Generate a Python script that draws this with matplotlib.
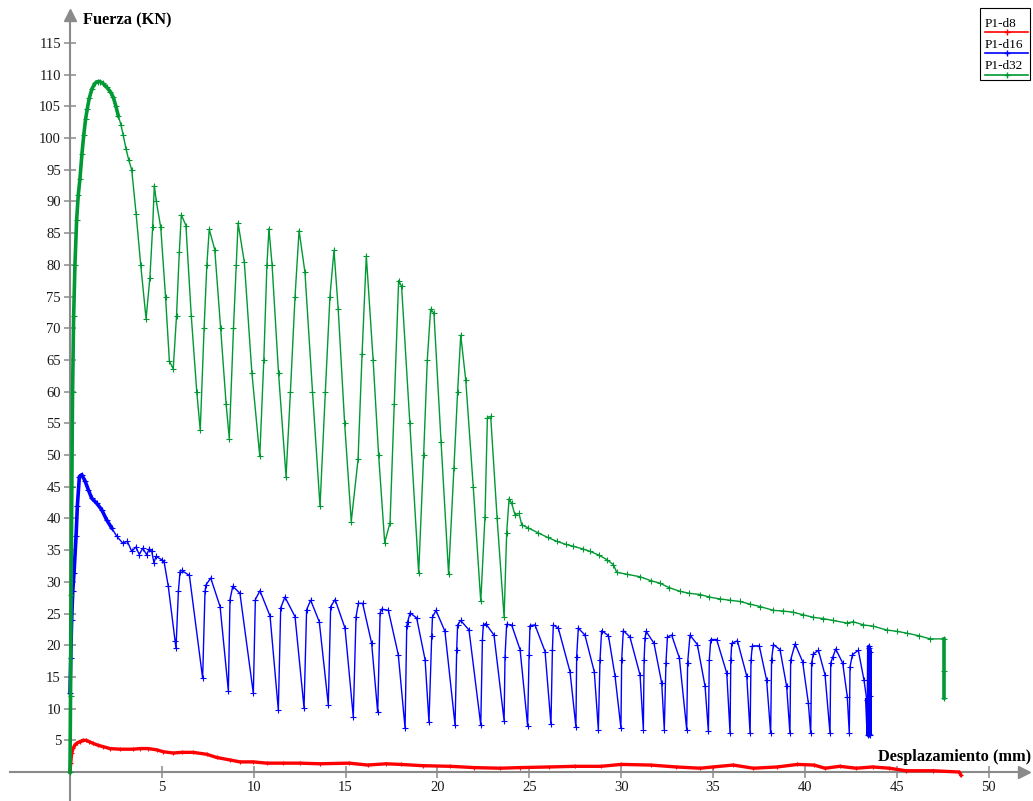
import numpy as np
import matplotlib.pyplot as plt
from matplotlib.lines import Line2D
from matplotlib.patches import Rectangle

plt.rcParams['font.family'] = ['Liberation Serif', 'DejaVu Serif']

# ensayo P1-d8 (desplazamiento mm, fuerza kN)
d8_x = [0, 0.04, 0.09, 0.18, 0.27, 0.4, 0.54, 0.7, 0.87, 1.05, 1.27, 1.55, 1.81, 2.18, 2.72,
        3.45, 3.81, 4.26, 4.72, 5.08, 5.62, 6.08, 6.71, 7.44, 7.98, 8.71, 9.25, 9.98, 10.71,
        11.61, 12.52, 13.6, 15.2, 16.2, 17.2, 18.0, 19.2, 20.7, 22.0, 23.4, 24.5, 26.1, 27.5,
        28.9, 30.0, 31.6, 33.0, 34.3, 35.0, 36.1, 37.2, 38.5, 39.6, 40.5, 41.1, 41.9, 42.8,
        43.7, 44.6, 45.5, 47.0, 48.4, 48.5]
d8_y = [0, 1.4, 3.0, 3.8, 4.3, 4.6, 4.8, 5.0, 5.0, 4.8, 4.5, 4.2, 4.0, 3.7, 3.6,
        3.6, 3.7, 3.7, 3.5, 3.2, 3.0, 3.1, 3.1, 2.8, 2.3, 1.9, 1.6, 1.6, 1.4,
        1.4, 1.4, 1.3, 1.4, 1.1, 1.3, 1.2, 1.0, 0.9, 0.7, 0.6, 0.7, 0.8, 0.9,
        0.9, 1.2, 1.1, 0.8, 0.6, 0.8, 1.1, 0.6, 0.8, 1.2, 1.1, 0.6, 0.9, 0.6,
        0.8, 0.6, 0.2, 0.2, 0.0, -0.5]

# ensayo P1-d16
d16_x = [0, 0.04, 0.09, 0.15, 0.22, 0.33, 0.4, 0.51, 0.64, 0.82, 1.0, 1.18, 1.45, 1.72, 1.99,
         2.27, 2.54, 2.87, 3.12, 3.36, 3.59, 3.77, 3.96, 4.17, 4.32, 4.45, 4.57, 4.68, 4.99,
         5.12, 5.35, 5.72, 5.77, 5.9, 5.99, 6.08, 6.5, 7.22, 7.35, 7.4, 7.66, 8.17, 8.62,
         8.71, 8.86, 9.25, 9.98, 10.09, 10.34, 10.89, 11.34, 11.47, 11.7, 12.25, 12.74,
         12.88, 13.1, 13.57, 14.06, 14.19, 14.43, 14.97, 15.42, 15.57, 15.7, 15.93, 16.42,
         16.75, 16.88, 16.97, 17.33, 17.87, 18.24, 18.33, 18.38, 18.51, 18.87, 19.33, 19.54,
         19.69, 19.73, 19.92, 20.41, 20.96, 21.05, 21.1, 21.27, 21.72, 22.36, 22.45, 22.5,
         22.63, 23.08, 23.63, 23.68, 23.77, 24.04, 24.5, 24.91, 24.99, 25.04, 25.31, 25.86,
         26.18, 26.26, 26.31, 26.58, 27.22, 27.54, 27.58, 27.67, 28.03, 28.54, 28.76, 28.85,
         28.94, 29.31, 29.67, 29.99, 30.03, 30.12, 30.48, 31.03, 31.21, 31.25, 31.3, 31.36,
         31.79, 32.21, 32.35, 32.44, 32.52, 32.75, 33.17, 33.57, 33.62, 33.75, 34.15, 34.57,
         34.75, 34.8, 34.88, 35.2, 35.75, 35.93, 35.97, 36.02, 36.33, 36.84, 37.02, 37.07,
         37.14, 37.52, 37.92, 38.14, 38.19, 38.29, 38.65, 39.01, 39.19, 39.23, 39.47, 39.88,
         40.19, 40.32, 40.37, 40.46, 40.74, 41.1, 41.37, 41.41, 41.52, 41.68, 42.06, 42.31,
         42.42, 42.46, 42.59, 42.91, 43.22, 43.37, 43.45, 43.48, 43.5, 43.52, 43.54, 43.56,
         43.55]
d16_y = [12.5, 18, 24, 28.5, 31.4, 37.2, 41.9, 46.6, 46.9, 45.9, 44.5, 43.2, 42.4, 41.4, 39.8,
         38.5, 37.2, 36.1, 36.4, 34.8, 35.5, 34.3, 35.3, 34.3, 35.2, 34.8, 33.0, 34.0, 33.5,
         33.2, 29.3, 20.6, 19.5, 28.5, 31.6, 31.8, 31.0, 14.8, 28.5, 29.5, 30.6, 26.1, 12.8,
         27.2, 29.3, 28.2, 12.4, 27.2, 28.6, 24.6, 9.8, 25.9, 27.6, 24.5, 10.1,
         25.6, 27.1, 23.7, 10.6, 26.1, 27.2, 22.7, 8.7, 24.5, 26.6, 26.6, 20.3,
         9.4, 25.1, 25.7, 25.5, 18.5, 6.9, 23.0, 23.7, 25.1, 24.3, 17.7, 7.9,
         21.4, 24.4, 25.5, 22.2, 7.4, 19.3, 23.2, 23.9, 22.4, 7.4, 20.9, 23.2,
         23.4, 21.6, 8.1, 18.2, 23.3, 23.2, 19.3, 7.3, 18.5, 23.1, 23.2, 19.0,
         7.5, 19.3, 23.2, 22.7, 15.8, 7.1, 18.2, 22.7, 21.6, 15.8, 6.7, 17.7,
         22.3, 21.5, 15.1, 6.9, 17.7, 22.3, 21.3, 15.3, 6.7, 17.7, 21.1, 22.2,
         20.3, 14.0, 6.7, 17.2, 21.3, 21.6, 18.0, 6.7, 17.2, 21.6, 20.1, 13.5,
         6.4, 17.7, 20.9, 20.9, 15.6, 6.1, 17.7, 20.3, 20.7, 15.1, 6.1, 17.7,
         19.9, 19.9, 14.5, 6.1, 17.7, 20.1, 19.3, 13.5, 6.1, 17.7, 20.2, 17.4,
         10.9, 6.1, 17.2, 18.6, 19.2, 15.3, 6.1, 17.2, 18.1, 19.4, 17.2, 11.9,
         6.1, 16.6, 18.5, 19.2, 14.5, 11.4, 5.8, 19.8, 6.0, 19.5, 5.9, 19.0,
         12.0]

# ensayo P1-d32
d32_x = [0, 0.03, 0.06, 0.1, 0.14, 0.2, 0.27, 0.36, 0.45, 0.54, 0.65, 0.75, 0.85, 0.94, 1.05,
         1.2, 1.35, 1.5, 1.63, 1.8, 2.0, 2.2, 2.36, 2.5, 2.63, 2.78, 2.9, 3.05, 3.2, 3.36,
         3.6, 3.85, 4.14, 4.35, 4.5, 4.59, 4.7, 4.94, 5.2, 5.41, 5.62, 5.8, 5.95, 6.06, 6.31,
         6.6, 6.9, 7.09, 7.3, 7.45, 7.58, 7.88, 8.2, 8.5, 8.67, 8.9, 9.05, 9.15, 9.49, 9.9,
         10.33, 10.55, 10.72, 10.83, 11.0, 11.35, 11.76, 12.0, 12.25, 12.47, 12.79, 13.2,
         13.61, 13.9, 14.15, 14.37, 14.6, 14.95, 15.31, 15.68, 15.9, 16.13, 16.5, 16.8, 17.13,
         17.42, 17.65, 17.89, 18.05, 18.5, 18.98, 19.25, 19.45, 19.63, 19.81, 20.2, 20.61,
         20.9, 21.1, 21.27, 21.54, 21.95, 22.36, 22.59, 22.72, 22.9, 23.25, 23.63, 23.77,
         23.9, 24.04, 24.22, 24.44, 24.59, 24.95, 25.5, 26.0, 26.49, 27.0, 27.4, 27.9, 28.31,
         28.8, 29.22, 29.58, 29.76, 30.3, 31.03, 31.6, 32.1, 32.6, 33.2, 33.7, 34.3, 34.8,
         35.38, 35.9, 36.47, 37.0, 37.56, 38.29, 38.8, 39.37, 39.9, 40.46, 41.0, 41.55,
         42.28, 42.64, 43.19, 43.73, 44.46, 45.0, 45.55, 46.2, 46.82, 47.58, 47.58, 47.58]
d32_y = [0, 12, 28, 45, 60, 72, 80, 87, 91, 93.5, 97.5, 100.5, 103, 104.6, 106.3,
         107.8, 108.6, 108.9, 108.9, 108.6, 108.0, 107.3, 106.4, 105.0, 103.5, 102.0, 100.4, 98.3, 96.5, 95.0,
         88, 80, 71.5, 78, 86, 92.5, 90, 85.9, 75, 64.8, 63.6, 72, 82, 87.9, 86.2,
         72, 60, 53.9, 70, 80, 85.6, 82.4, 70, 58, 52.6, 70, 80, 86.6, 80.4, 63,
         49.8, 65, 80, 85.7, 80, 63, 46.6, 60, 75, 85.4, 78.8, 60,
         41.9, 60, 75, 82.3, 73, 55, 39.5, 49.3, 66, 81.4, 65, 50, 36.2,
         39.3, 58, 77.5, 76.6, 55, 31.4, 50, 65, 73.0, 72.4, 52, 31.2,
         48, 60, 68.9, 61.9, 45, 26.9, 40.3, 55.9, 56.1, 40, 24.4, 37.7,
         43.1, 42.4, 40.6, 40.8, 39.0, 38.5, 37.7, 37.0, 36.4, 35.9, 35.6, 35.2, 34.8,
         34.2, 33.5, 32.7, 31.5, 31.2, 30.8, 30.2, 29.8, 29.1, 28.5, 28.2, 28.0, 27.6,
         27.3, 27.1, 26.9, 26.5, 26.1, 25.5, 25.4, 25.2, 24.8, 24.4, 24.2, 23.9,
         23.5, 23.7, 23.2, 23.0, 22.4, 22.2, 21.9, 21.5, 21.0, 21.0, 16.0, 11.6]

x_ticks = [5, 10, 15, 20, 25, 30, 35, 40, 45, 50]
y_ticks = list(range(5, 120, 5))

c_d8, c_d16, c_d32 = '#ff0000', '#0000ff', '#009933'
gris = '#8a8a8a'

fig = plt.figure(figsize=(10.33, 8.01), dpi=100)
ax = fig.add_axes([0, 0, 1, 1])
ax.set_xlim(-3.81, 52.42)
ax.set_ylim(-4.57, 121.77)

# ejes cruzados en el origen con flecha
for s in ['top', 'right']:
    ax.spines[s].set_visible(False)
ax.spines['left'].set_position(('data', 0))
ax.spines['bottom'].set_position(('data', 0))
ax.spines['left'].set_bounds(-4.57, 119.5)
ax.spines['bottom'].set_bounds(-3.27, 52.0)
for s in ['left', 'bottom']:
    ax.spines[s].set_color(gris)
    ax.spines[s].set_linewidth(1.5)
ax.plot([51.95], [0], '>', ms=8, color=gris, clip_on=False, zorder=5)
ax.plot([0], [119.4], '^', ms=8, color=gris, clip_on=False, zorder=5)

ax.set_xticks(x_ticks)
ax.set_yticks(y_ticks)
ax.set_xticklabels([str(t) for t in x_ticks])
ax.set_yticklabels([str(t) for t in y_ticks])
ax.tick_params(direction='inout', length=9, width=1.1, color=gris,
               labelsize=10.5, labelcolor='#1a1a1a', pad=2)

# curvas
ax.plot(d8_x, d8_y, color=c_d8, lw=2.4, marker='+', ms=3, mew=0.8, zorder=3)
ax.plot(d16_x, d16_y, color=c_d16, lw=1.0, marker='+', ms=4, mew=0.8, zorder=3)
ax.plot(d32_x, d32_y, color=c_d32, lw=1.0, marker='+', ms=4, mew=0.8, zorder=4)

# tramos con muestreo denso (trazo grueso)
b16 = np.array(d16_x) <= 2.3
ax.plot(np.array(d16_x)[b16], np.array(d16_y)[b16], color=c_d16, lw=2.6, zorder=3)
ax.plot(d16_x[-8:], d16_y[-8:], color=c_d16, lw=2.6, zorder=3)
b32 = np.array(d32_x) <= 2.65
ax.plot(np.array(d32_x)[b32], np.array(d32_y)[b32], color=c_d32, lw=2.6, zorder=4)
ax.plot(d32_x[-3:], d32_y[-3:], color=c_d32, lw=2.6, zorder=4)

ax.text(83 / 1033, 1 - 20 / 801, 'Fuerza (KN)', transform=ax.transAxes,
        fontsize=11.8, fontweight='bold', va='center', ha='left')
ax.text(1031 / 1033, 1 - 757 / 801, 'Desplazamiento (mm)', transform=ax.transAxes,
        fontsize=11.8, fontweight='bold', va='center', ha='right')

# leyenda
W, H = 1033, 801
fig.patches.append(Rectangle((980 / W, 1 - 80 / H), 50 / W, 72 / H, transform=fig.transFigure,
                             fill=False, ec='black', lw=0.8))
for nombre, col, yt, yl in [('P1-d8', c_d8, 24, 32), ('P1-d16', c_d16, 45, 53),
                            ('P1-d32', c_d32, 66, 75)]:
    fig.text(985 / W, 1 - yt / H, nombre, fontsize=9.5, va='center', ha='left')
    fig.lines.append(Line2D([985 / W, 1028 / W], [1 - yl / H, 1 - yl / H], color=col,
                            lw=1.2, transform=fig.transFigure))
    fig.lines.append(Line2D([1007 / W], [1 - yl / H], color=col, marker='+', ms=4,
                            transform=fig.transFigure))

fig.savefig('out.png', dpi=100)
